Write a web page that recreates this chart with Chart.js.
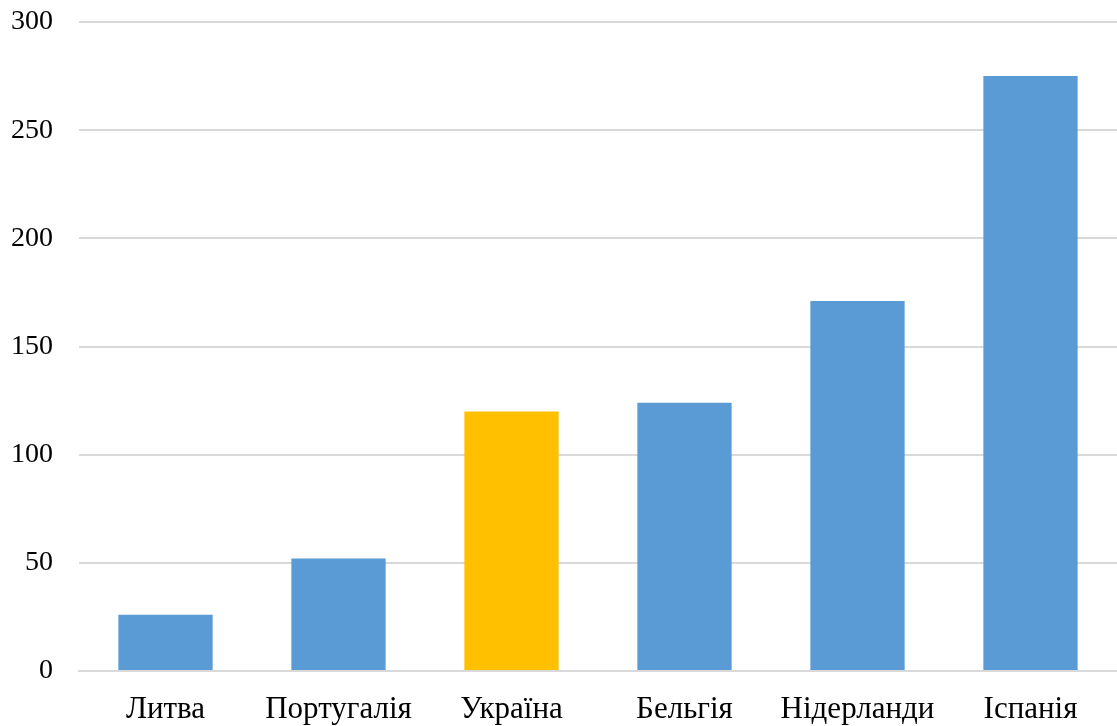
<!DOCTYPE html>
<html>
<head>
<meta charset="utf-8">
<script src="https://cdn.jsdelivr.net/npm/chart.js@4/dist/chart.umd.min.js"></script>
<style>
  html, body { margin: 0; padding: 0; background: #fff; }
  #wrap { width: 1117px; height: 726px; }
</style>
</head>
<body>
<div id="wrap"><canvas id="barChart"></canvas></div>
<script>
// Countries and values
const countries = ["Литва", "Португалія", "Україна", "Бельгія", "Нідерланди", "Іспанія"];
const values = [26, 52, 120, 124, 171, 275];
const highlighted = "Україна";
const yTicks = [0, 50, 100, 150, 200, 250, 300];

const barColors = countries.map((c) => (c === highlighted ? "#ffc000" : "#5b9bd5"));
const serif = "'Liberation Serif', 'Times New Roman', serif";

const ctx = document.getElementById("barChart").getContext("2d");
new Chart(ctx, {
  type: "bar",
  data: {
    labels: countries,
    datasets: [
      {
        data: values,
        backgroundColor: barColors,
        borderWidth: 0,
        categoryPercentage: 1,
        barPercentage: 0.545,
      },
    ],
  },
  options: {
    responsive: true,
    maintainAspectRatio: false,
    animation: false,
    layout: { padding: { top: 22, right: 0, bottom: 0, left: 0 } },
    plugins: { legend: { display: false }, tooltip: { enabled: false } },
    scales: {
      x: {
        afterFit: (axis) => {
          axis.height = 55;
          axis.paddingLeft = 0;
          axis.paddingRight = 0;
        },
        grid: { display: false, drawTicks: false },
        border: { color: "#d9d9d9", width: 2 },
        ticks: {
          color: "#000",
          padding: 20,
          font: { family: serif, size: 31 },
        },
      },
      y: {
        min: 0,
        max: 300,
        afterBuildTicks: (axis) => {
          axis.ticks = yTicks.map((v) => ({ value: v }));
        },
        afterFit: (axis) => {
          axis.width = 79;
          axis.paddingTop = 0;
          axis.paddingBottom = 0;
        },
        grid: { color: "#d9d9d9", lineWidth: 2, drawTicks: false },
        border: { display: false },
        ticks: {
          color: "#000",
          padding: 26,
          font: { family: serif, size: 28 },
        },
      },
    },
  },
});
</script>
</body>
</html>
